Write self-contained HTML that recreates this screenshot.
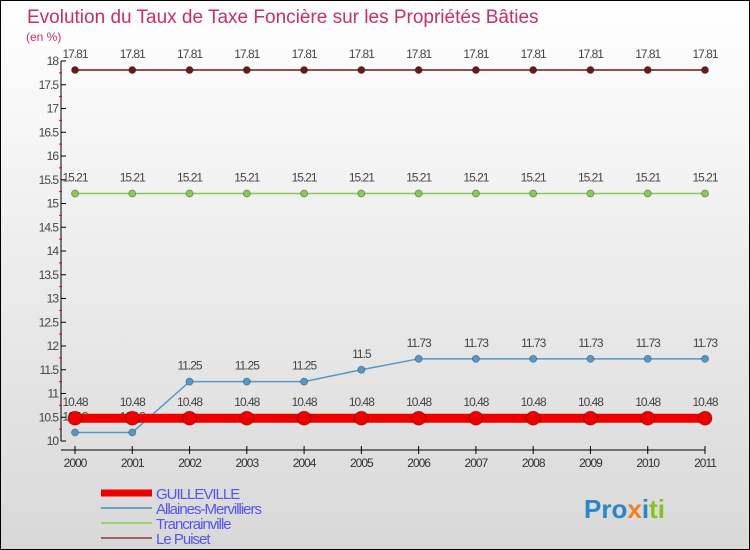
<!DOCTYPE html>
<html><head><meta charset="utf-8"><style>
body{margin:0}
#c{width:748px;height:548px;border:1px solid #000;background:linear-gradient(#fff,#d8d8d8);position:relative;font-family:"Liberation Sans",sans-serif}
</style></head><body>
<div id="c">
<svg id="s" width="748" height="548" style="position:absolute;left:0;top:0">
<text x="26" y="22" font-size="19" fill="#c8305f">Evolution du Taux de Taxe Foncière sur les Propriétés Bâties</text>
<text x="25" y="40" font-size="12" fill="#c8305f">(en %)</text>
</svg>
</div>
<script>
const years=["2000","2001","2002","2003","2004","2005","2006","2007","2008","2009","2010","2011"];
const guilleville=[10.48,10.48,10.48,10.48,10.48,10.48,10.48,10.48,10.48,10.48,10.48,10.48];
const allaines=[10.18,10.18,11.25,11.25,11.25,11.5,11.73,11.73,11.73,11.73,11.73,11.73];
const tranc=[15.21,15.21,15.21,15.21,15.21,15.21,15.21,15.21,15.21,15.21,15.21,15.21];
const puiset=[17.81,17.81,17.81,17.81,17.81,17.81,17.81,17.81,17.81,17.81,17.81,17.81];
const yTicks=[10,10.5,11,11.5,12,12.5,13,13.5,14,14.5,15,15.5,16,16.5,17,17.5,18];
const seriesNames=["GUILLEVILLE","Allaines-Mervilliers","Trancrainville","Le Puiset"];
const NS="http://www.w3.org/2000/svg",s=document.getElementById('s');
const X=i=>74+i*(630/(years.length-1)), Y=v=>440-(v-10)*47.5;
function el(t,a,p){const e=document.createElementNS(NS,t);for(const k in a)e.setAttribute(k,a[k]);(p||s).appendChild(e);return e;}
let ax=el('line',{x1:60,y1:Y(18),x2:60,y2:Y(10),stroke:'#000'});


let xa=el('line',{x1:60,y1:449,x2:X(11),y2:449,stroke:'#000'});


yTicks.forEach((v,i)=>{
 el('line',{x1:60,y1:Y(v),x2:65,y2:Y(v),stroke:'#000'});
 if(i<yTicks.length-1)el('line',{x1:58,y1:Y(v+0.25),x2:61,y2:Y(v+0.25),stroke:'#e00'});
 const t=el('text',{x:57,y:Y(v)+4,'font-size':12,fill:'#444','text-anchor':'end','letter-spacing':'-1'});
 t.textContent=String(v);
 
 
});
years.forEach((y,i)=>{
 el('line',{x1:X(i),y1:445,x2:X(i),y2:453,stroke:'#000'});
 const t=el('text',{x:X(i),y:466,'font-size':12,fill:'#333','text-anchor':'middle','letter-spacing':'-1'});
 t.textContent=y;
 
 
});
function series(data,color,w,r,name){
 const g=el('g',{});
 
 
 el('polyline',{points:data.map((v,i)=>X(i)+','+Y(v)).join(' '),fill:'none',stroke:color,'stroke-width':w},g);
 data.forEach((v,i)=>{
  const c=el('circle',{cx:X(i),cy:Y(v),r:r,fill:color,stroke:'rgba(0,0,0,0.3)'},g);
  
  
  const t=el('text',{x:X(i),y:Y(v)-12,'font-size':12,fill:'#444','text-anchor':'middle','letter-spacing':'-1'},g);
  t.textContent=String(v);
 });
}
series(puiset,'#6b1a1a',1.5,3.5,'series-le-puiset');
series(tranc,'#88cc55',1.5,3.5,'series-trancrainville');
series(allaines,'#5599cc',1.5,3.5,'series-allaines-mervilliers');
series(guilleville,'#ee0000',9,7,'series-guilleville');
const lc=['#ee0000','#6fa0c8','#99d070','#9b6060'],lw=[7,2,2,2];
seriesNames.forEach((n,i)=>{
 const g=el('g',{});
 
 
 const y=492+i*15;
 el('line',{x1:100,y1:y,x2:151,y2:y,stroke:lc[i],'stroke-width':lw[i]},g);
 const t=el('text',{x:155,y:y+6,'font-size':15,fill:'#5555ee','letter-spacing':'-1'},g);
 t.textContent=n;
});
const lg=el('text',{x:583,y:517,'font-size':26,'font-weight':'bold',fill:'#2a88c8'});
lg.innerHTML='Pro<tspan fill="#f08020">x</tspan><tspan fill="#2a88c8">i</tspan><tspan fill="#88c020">ti</tspan>';


</script>
</body></html>
